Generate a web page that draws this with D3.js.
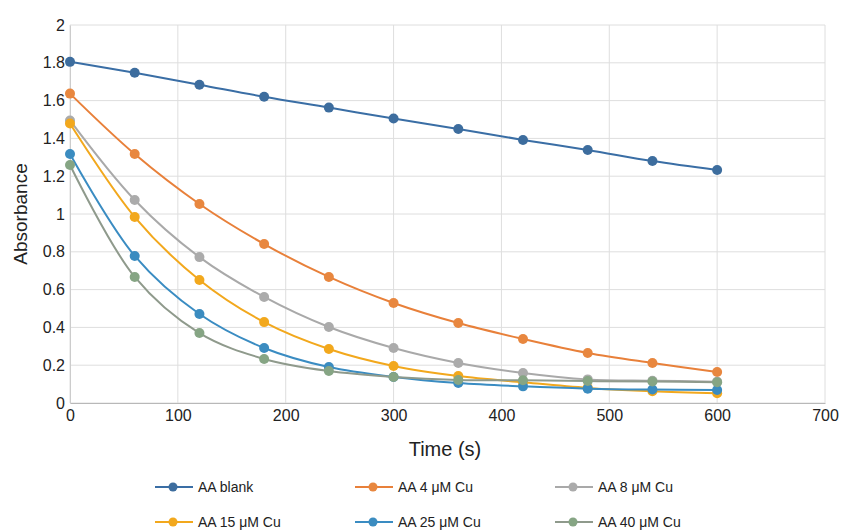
<!DOCTYPE html>
<html lang="en">
<head>
<meta charset="utf-8">
<script src="https://d3js.org/d3.v7.min.js"></script>
<style>
  body { margin: 0; background: #fff; }
  text { font-family: "Liberation Sans", Arial, sans-serif; fill: #222; }
</style>
</head>
<body>
<div id="chart"></div>
<script>
// time points (s)
const times = [0, 60, 120, 180, 240, 300, 360, 420, 480, 540, 600];

// absorbance values
const blank = [1.805, 1.747, 1.684, 1.62, 1.563, 1.505, 1.45, 1.392, 1.339, 1.28, 1.233];
const cu4   = [1.637, 1.317, 1.053, 0.841, 0.667, 0.529, 0.423, 0.339, 0.265, 0.212, 0.164];
const cu8   = [1.495, 1.074, 0.772, 0.561, 0.402, 0.291, 0.212, 0.159, 0.125, 0.118, 0.113];
const cu15  = [1.479, 0.984, 0.651, 0.428, 0.286, 0.196, 0.143, 0.11, 0.08, 0.062, 0.052];
const cu25  = [1.317, 0.778, 0.471, 0.291, 0.19, 0.138, 0.106, 0.088, 0.076, 0.071, 0.069];
const cu40  = [1.259, 0.667, 0.37, 0.233, 0.169, 0.138, 0.122, 0.12, 0.116, 0.114, 0.11];

const seriesNames = ["AA blank", "AA 4 μM Cu", "AA 8 μM Cu", "AA 15 μM Cu", "AA 25 μM Cu", "AA 40 μM Cu"];
const seriesValues = [blank, cu4, cu8, cu15, cu25, cu40];
const lineColors = ["#3a6ea5", "#e8803a", "#a9a9a9", "#f2a81d", "#3a8cc2", "#8f9a8c"];
const dotColors  = ["#3d6d9e", "#e8873f", "#ababab", "#f2a81d", "#3b8cc0", "#86a584"];

const xTicks = [0, 100, 200, 300, 400, 500, 600, 700];
const yTicks = [0, 0.2, 0.4, 0.6, 0.8, 1, 1.2, 1.4, 1.6, 1.8, 2];

let width = 842, height = 530;
let margin = {top: 25, right: 17, bottom: 127, left: 70};

let svg = d3.select("#chart").append("svg")
  .attr("width", width)
  .attr("height", height);

let x = d3.scaleLinear().domain([0, 700]).range([margin.left, width - margin.right]);
let y = d3.scaleLinear().domain([0, 2]).range([height - margin.bottom, margin.top]);

// gridlines
svg.append("g")
  .selectAll("line")
  .data(yTicks)
  .enter().append("line")
  .attr("x1", x(0)).attr("x2", x(700))
  .attr("y1", d => y(d)).attr("y2", d => y(d))
  .attr("stroke", "#dedede").attr("stroke-width", 1);

svg.append("g")
  .selectAll("line")
  .data(xTicks)
  .enter().append("line")
  .attr("x1", d => x(d)).attr("x2", d => x(d))
  .attr("y1", y(0)).attr("y2", y(2))
  .attr("stroke", "#dedede").attr("stroke-width", 1);

// axes
let xAxis = svg.append("g")
  .attr("transform", "translate(0," + y(0) + ")")
  .call(d3.axisBottom(x).tickValues(xTicks).tickSize(0).tickPadding(7));
xAxis.select(".domain").attr("stroke", "#b8b8b8");
xAxis.selectAll("text").style("font-size", "16px").attr("fill", "#222");

let yAxis = svg.append("g")
  .attr("transform", "translate(" + x(0) + ",0)")
  .call(d3.axisLeft(y).tickValues(yTicks).tickSize(0).tickPadding(5)
    .tickFormat(d => d3.format("~g")(d)));
yAxis.select(".domain").attr("stroke", "#cccccc");
yAxis.selectAll("text").style("font-size", "16px").attr("fill", "#222");

// axis titles
svg.append("text")
  .attr("x", 445).attr("y", 456)
  .attr("text-anchor", "middle")
  .style("font-size", "20px")
  .text("Time (s)");

svg.append("text")
  .attr("transform", "translate(27," + y(1) + ") rotate(-90)")
  .attr("text-anchor", "middle")
  .style("font-size", "19px")
  .text("Absorbance");

// lines and markers
let line = d3.line()
  .x((d, i) => x(times[i]))
  .y(d => y(d))
  .curve(d3.curveCatmullRom.alpha(0.5));

seriesValues.forEach(function(vals, k) {
  let g = svg.append("g");
  g.append("path")
    .datum(vals)
    .attr("fill", "none")
    .attr("stroke", lineColors[k])
    .attr("stroke-width", 2)
    .attr("d", line);
  g.selectAll("circle")
    .data(vals)
    .enter().append("circle")
    .attr("cx", (d, i) => x(times[i]))
    .attr("cy", d => y(d))
    .attr("r", 5)
    .attr("fill", dotColors[k]);
});

// legend
let legX = [155, 355, 555], legY = [487, 522];
seriesNames.forEach(function(name, k) {
  let lx = legX[k % 3], ly = legY[Math.floor(k / 3)];
  let g = svg.append("g").attr("transform", "translate(" + lx + "," + ly + ")");
  g.append("line").attr("x1", 0).attr("x2", 38).attr("y1", 0).attr("y2", 0)
    .attr("stroke", lineColors[k]).attr("stroke-width", 2);
  g.append("circle").attr("cx", 18).attr("cy", 0).attr("r", 4.5).attr("fill", dotColors[k]);
  g.append("text").attr("x", 43).attr("y", 5)
    .style("font-size", "14px")
    .text(name);
});
</script>
</body>
</html>
